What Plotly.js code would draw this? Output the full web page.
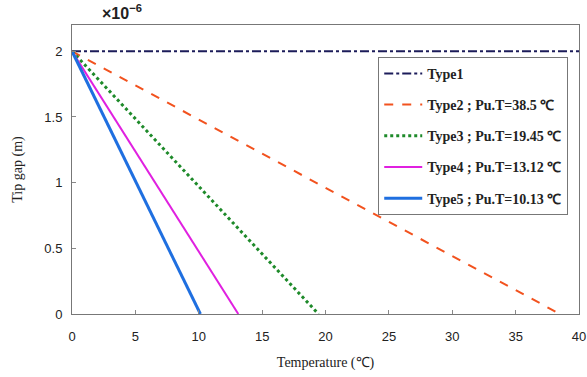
<!DOCTYPE html>
<html><head><meta charset="utf-8">
<script src="https://cdn.plot.ly/plotly-3.0.1.min.js"></script>
<style>html,body{margin:0;padding:0;background:#fff}#c{width:587px;height:377px}</style>
</head><body><div id="c"></div>
<script>
const seriesNames = ["Type1", "Type2 ; Pu.T=38.5 ℃", "Type3 ; Pu.T=19.45 ℃", "Type4 ; Pu.T=13.12 ℃", "Type5 ; Pu.T=10.13 ℃"];
const type1X = [0, 40];
const type1Y = [2e-6, 2e-6];
const type2X = [0, 38.5];
const type2Y = [2e-6, 0];
const type3X = [0, 19.45];
const type3Y = [2e-6, 0];
const type4X = [0, 13.12];
const type4Y = [2e-6, 0];
const type5X = [0, 10.13];
const type5Y = [2e-6, 0];
const yTickVals = [0, 0.5e-6, 1e-6, 1.5e-6, 2e-6];
const yTickText = ["0", "0.5", "1", "1.5", "2"];
const xTickVals = [0, 5, 10, 15, 20, 25, 30, 35, 40];

const traces = [
  {x: type1X, y: type1Y, name: seriesNames[0], legendgroup: "g1", mode: "lines", line: {color: "#1c1c5a", width: 2, dash: "dashdot"}},
  {x: type2X, y: type2Y, name: seriesNames[1], legendgroup: "g2", mode: "lines", line: {color: "#f2521e", width: 2, dash: "dash"}},
  {x: type3X, y: type3Y, name: seriesNames[2], legendgroup: "g3", mode: "lines", line: {color: "#1e8a2a", width: 3, dash: "dot"}},
  {x: type4X, y: type4Y, name: seriesNames[3], legendgroup: "g4", mode: "lines", line: {color: "#e020e0", width: 2}},
  {x: type5X, y: type5Y, name: seriesNames[4], legendgroup: "g5", mode: "lines", line: {color: "#1f6fe0", width: 3}}
];

const layout = {
  width: 587, height: 377,
  margin: {l: 72, r: 8, t: 25, b: 63},
  paper_bgcolor: "#fff", plot_bgcolor: "#fff",
  showlegend: true,
  legend: {
    x: 0.604, y: 0.89, xanchor: "left", yanchor: "top",
    bgcolor: "#fff", bordercolor: "#777", borderwidth: 1,
    font: {family: "Liberation Serif, Times New Roman, serif", size: 14, color: "#222", weight: "bold"},
    tracegroupgap: 10, itemwidth: 38
  },
  xaxis: {
    range: [0, 40], tickvals: xTickVals, ticks: "inside", ticklen: 4, tickcolor: "#888",
    showline: true, linecolor: "#777", linewidth: 1, mirror: true, showgrid: false, zeroline: false,
    ticklabelstandoff: 10,
    tickfont: {family: "Liberation Sans, Arial, sans-serif", size: 13, color: "#222"},
    title: {text: "Temperature (℃)", font: {family: "Liberation Serif, Times New Roman, serif", size: 14, color: "#222"}, standoff: 14}
  },
  yaxis: {
    range: [0, 2.2e-6], tickvals: yTickVals, ticktext: yTickText, ticks: "inside", ticklen: 4, tickcolor: "#888",
    showline: true, linecolor: "#777", linewidth: 1, mirror: true, showgrid: false, zeroline: false,
    ticklabelstandoff: 6,
    tickfont: {family: "Liberation Sans, Arial, sans-serif", size: 13, color: "#222"},
    title: {text: "Tip gap (m)", font: {family: "Liberation Serif, Times New Roman, serif", size: 14, color: "#222"}, standoff: 18}
  },
  annotations: [{
    xref: "paper", yref: "paper", x: 0.055, y: 1.0, xanchor: "left", yanchor: "bottom", yshift: 1,
    text: "<b>×10<sup>−6</sup></b>", showarrow: false,
    font: {family: "Liberation Sans, Arial, sans-serif", size: 16, color: "#222"}
  }]
};
Plotly.newPlot("c", traces, layout, {displayModeBar: false, staticPlot: true});
</script></body></html>
